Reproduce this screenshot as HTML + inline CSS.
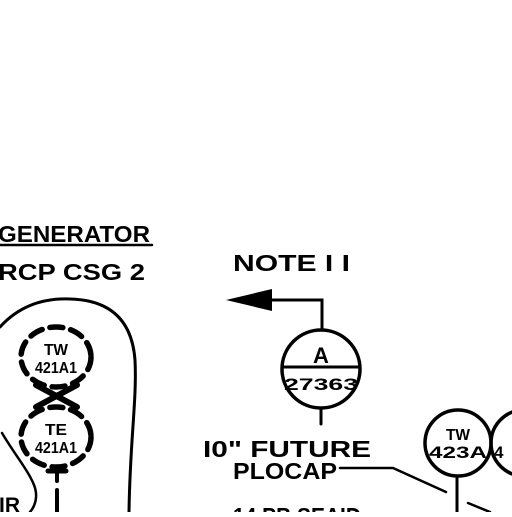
<!DOCTYPE html>
<html><head><style>
body{margin:0;background:#fff;width:512px;height:512px;overflow:hidden}
text{font-family:"Liberation Sans",sans-serif;font-weight:bold;fill:#000}
</style></head><body>
<svg width="512" height="512" viewBox="0 0 512 512" xmlns="http://www.w3.org/2000/svg">
<g stroke="#000" fill="none" stroke-linecap="round">
<line x1="0" y1="245" x2="152" y2="245" stroke-width="2.5"/>
<path d="M0,327 C20,305 45,298 70,299 C110,300 132,320 135,360 C137,400 130,440 129,512" stroke-width="3"/>
<path d="M2,433 C15,455 28,470 34,485 C38,495 36,505 30,512" stroke-width="2.5"/>
<ellipse cx="56" cy="357" rx="35" ry="30" stroke-width="5.5" stroke-dasharray="13 8"/>
<ellipse cx="56" cy="437" rx="35" ry="30" stroke-width="5.5" stroke-dasharray="13 8"/>
<line x1="36" y1="385" x2="77" y2="407" stroke-width="6"/>
<line x1="36" y1="407" x2="77" y2="385" stroke-width="6"/>
<line x1="48" y1="471" x2="66" y2="471" stroke-width="5"/>
<line x1="57" y1="471" x2="57" y2="481" stroke-width="4"/>
<line x1="57" y1="490" x2="57" y2="512" stroke-width="4"/>
<polyline points="268,300 322,300 322,330" stroke-width="3"/>
<circle cx="321" cy="369" r="39" stroke-width="3.5"/>
<line x1="282" y1="367" x2="360" y2="367" stroke-width="3"/>
<line x1="321" y1="408" x2="321" y2="424" stroke-width="3"/>
<polyline points="340,468 393,468 446,492" stroke-width="2.5"/>
<circle cx="458" cy="443" r="33" stroke-width="3.5"/>
<circle cx="524" cy="443" r="33" stroke-width="3.5"/>
<line x1="457" y1="476" x2="457" y2="512" stroke-width="3"/>
<line x1="468" y1="503" x2="490" y2="512" stroke-width="2.5"/>
</g>
<polygon points="226,300 272,289 272,311" fill="#000"/>
<text x="-2" y="242" font-size="23" textLength="152" lengthAdjust="spacingAndGlyphs">GENERATOR</text>
<text x="-2" y="280" font-size="23" textLength="147" lengthAdjust="spacingAndGlyphs">RCP CSG 2</text>
<text x="233" y="271" font-size="23" textLength="117" lengthAdjust="spacingAndGlyphs">NOTE  I I</text>
<text x="56" y="355" font-size="16" text-anchor="middle" textLength="24" lengthAdjust="spacingAndGlyphs">TW</text>
<text x="56" y="373" font-size="16" text-anchor="middle" textLength="42" lengthAdjust="spacingAndGlyphs">421A1</text>
<text x="56" y="435" font-size="16" text-anchor="middle" textLength="22" lengthAdjust="spacingAndGlyphs">TE</text>
<text x="56" y="453" font-size="16" text-anchor="middle" textLength="42" lengthAdjust="spacingAndGlyphs">421A1</text>
<text x="-1" y="512" font-size="21">IR</text>
<text x="321" y="363" font-size="22" text-anchor="middle">A</text>
<text x="321" y="390" font-size="17" text-anchor="middle" textLength="74" lengthAdjust="spacingAndGlyphs">27363</text>
<text x="203" y="457" font-size="23" textLength="168" lengthAdjust="spacingAndGlyphs">I0" FUTURE</text>
<text x="233" y="479" font-size="23" textLength="104" lengthAdjust="spacingAndGlyphs">PLOCAP</text>
<text x="458" y="440" font-size="16" text-anchor="middle" textLength="24" lengthAdjust="spacingAndGlyphs">TW</text>
<text x="458" y="458" font-size="17" text-anchor="middle" textLength="58" lengthAdjust="spacingAndGlyphs">423A</text>
<text x="494" y="458" font-size="17">4</text>
<text x="233" y="524" font-size="23" textLength="128" lengthAdjust="spacingAndGlyphs">14 PB SEAID</text>
</svg>
</body></html>
